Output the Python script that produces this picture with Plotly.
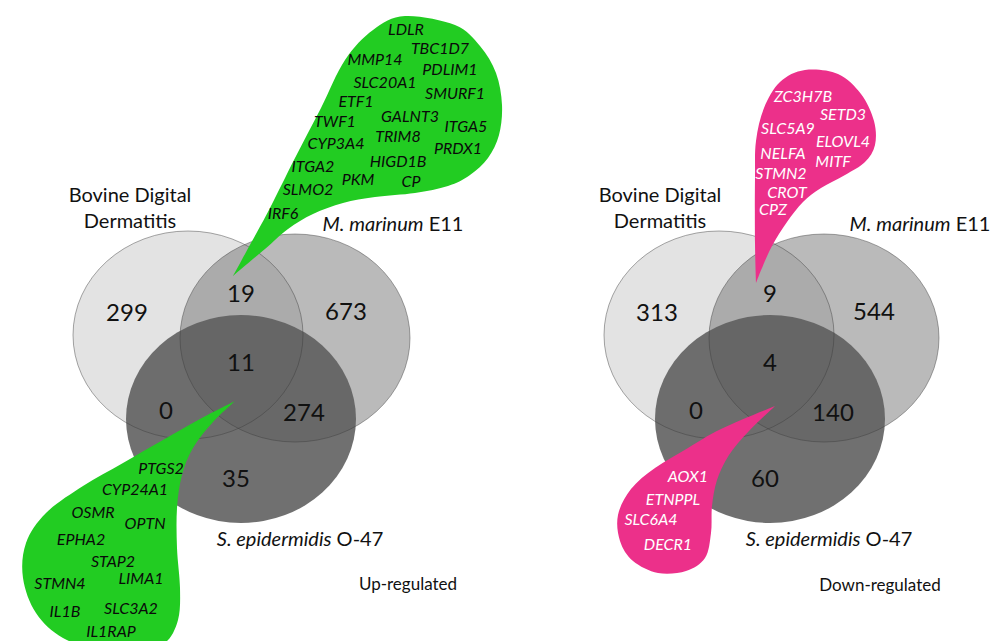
import plotly.graph_objects as go

# ---------------- data ----------------
regions = ["A only", "A&B", "B only", "A&B&C", "A&C", "B&C", "C only"]
up_counts = [299, 19, 673, 11, 0, 274, 35]
down_counts = [313, 9, 544, 4, 0, 140, 60]
set_names = ["Bovine Digital<br>Dermatitis", "<i>M. marinum</i> E11", "<i>S. epidermidis</i> O-47"]
panel_titles = ["Up-regulated", "Down-regulated"]

up_AB_genes = ["LDLR", "TBC1D7", "MMP14", "PDLIM1", "SLC20A1", "SMURF1", "ETF1", "GALNT3",
               "TWF1", "ITGA5", "TRIM8", "CYP3A4", "PRDX1", "HIGD1B", "ITGA2", "PKM", "CP",
               "SLMO2", "IRF6"]
up_ABC_genes = ["PTGS2", "CYP24A1", "OSMR", "OPTN", "EPHA2", "STAP2", "STMN4", "LIMA1",
                "IL1B", "SLC3A2", "IL1RAP"]
down_AB_genes = ["ZC3H7B", "SETD3", "SLC5A9", "ELOVL4", "NELFA", "MITF", "STMN2", "CROT", "CPZ"]
down_ABC_genes = ["AOX1", "ETNPPL", "SLC6A4", "DECR1"]

# ---------------- layout (pixel-space positions) ----------------
FONT = "Lato"
W, H = 999, 641
RX, RY = 115, 104

panels = [
    dict(centers=[(180, 327), (287, 330), (233, 411)],
         count_pos=[(119, 307), (233, 288), (338, 306), (233, 357), (158, 405), (296, 407), (228, 473)],
         name_pos=[(122, 202), (385, 218), (292, 533)],
         title_pos=(400, 578)),
    dict(centers=[(711, 327), (816, 330), (762, 411)],
         count_pos=[(649, 307), (762, 288), (866, 306), (762, 357), (688, 405), (825, 407), (757, 473)],
         name_pos=[(652, 202), (912, 218), (821, 533)],
         title_pos=(872, 579)),
]

up_AB_pos = [(398, 23), (432, 42), (367, 53), (442, 63), (377, 76), (447, 87), (348, 95),
             (402, 110), (327, 115), (458, 120), (390, 130), (328, 137), (450, 142),
             (390, 155), (305, 160), (350, 173), (403, 175), (300, 183), (275, 207)]
up_ABC_pos = [(153, 462), (127, 483), (85, 506), (137, 517), (73, 533), (105, 555),
              (52, 577), (133, 572), (57, 605), (123, 602), (103, 625)]
down_AB_pos = [(795, 90), (835, 108), (780, 122), (835, 135), (775, 147), (825, 155),
               (773, 167), (779, 186), (765, 203)]
down_ABC_pos = [(680, 470), (665, 493), (643, 513), (660, 538)]

# callout outlines (tip first and last)
green_top = [(225, 268), (243, 235), (262, 200), (287, 150), (313, 100), (337, 52), (365, 22),
             (397, 8), (447, 17), (472, 38), (488, 65), (494, 97), (491, 127), (480, 150),
             (462, 167), (440, 178), (407, 185), (367, 189), (335, 195), (305, 206),
             (280, 221), (257, 241), (225, 268)]
green_bot = [(227, 393), (205, 414), (185, 440), (174, 467), (169, 500), (169, 540),
             (172, 580), (170, 612), (157, 635), (130, 645), (95, 643), (55, 630),
             (28, 605), (15, 570), (18, 535), (38, 505), (75, 478), (115, 455),
             (155, 432), (192, 411), (227, 393)]
pink_top = [(748, 275), (747, 235), (747, 170), (748, 133), (756, 100), (772, 74), (797, 62),
            (830, 66), (853, 86), (866, 113), (867, 137), (857, 154), (837, 167),
            (813, 180), (795, 194), (779, 214), (764, 238), (754, 260), (748, 275)]
pink_bot = [(767, 398), (713, 421), (680, 440), (647, 460), (623, 481), (610, 507),
            (612, 533), (625, 553), (650, 565), (678, 563), (697, 550), (703, 525),
            (704, 498), (709, 472), (721, 447), (741, 423), (767, 398)]

GREEN = "rgb(34,204,34)"
PINK = "rgb(236,48,138)"


def smooth_path(pts):
    P = [pts[0]] + list(pts) + [pts[-1]]
    d = f"M {pts[0][0]},{pts[0][1]}"
    for i in range(1, len(P) - 2):
        p0, p1, p2, p3 = P[i - 1], P[i], P[i + 1], P[i + 2]
        c1 = (p1[0] + (p2[0] - p0[0]) / 6, p1[1] + (p2[1] - p0[1]) / 6)
        c2 = (p2[0] - (p3[0] - p1[0]) / 6, p2[1] - (p3[1] - p1[1]) / 6)
        d += f" C {c1[0]:.1f},{c1[1]:.1f} {c2[0]:.1f},{c2[1]:.1f} {p2[0]},{p2[1]}"
    return d + " Z"


fills = [("rgb(200,200,200)", 0.5), ("rgb(110,110,110)", 0.48), ("rgb(92,92,92)", 0.88)]

shapes = []
for p in panels:
    for (cx, cy), (col, op) in zip(p["centers"], fills):
        shapes.append(dict(type="circle", xref="x", yref="y", x0=cx - RX, x1=cx + RX,
                           y0=cy - RY, y1=cy + RY, fillcolor=col, opacity=op,
                           line=dict(width=0), layer="below"))
    for (cx, cy) in p["centers"][:2]:
        shapes.append(dict(type="circle", xref="x", yref="y", x0=cx - RX, x1=cx + RX,
                           y0=cy - RY, y1=cy + RY, fillcolor="rgba(0,0,0,0)",
                           line=dict(width=1, color="rgba(60,60,60,0.45)"), layer="below"))

for pts, col in [(green_top, GREEN), (green_bot, GREEN), (pink_top, PINK), (pink_bot, PINK)]:
    shapes.append(dict(type="path", xref="x", yref="y", path=smooth_path(pts),
                       fillcolor=col, line=dict(width=0), layer="below"))

fig = go.Figure()

# region counts
for p, counts in zip(panels, [up_counts, down_counts]):
    fig.add_trace(go.Scatter(x=[q[0] for q in p["count_pos"]], y=[q[1] for q in p["count_pos"]],
                             text=[str(c) for c in counts], mode="text",
                             textfont=dict(family=FONT, size=24, color="#111111"),
                             hoverinfo="skip", showlegend=False))
    fig.add_trace(go.Scatter(x=[q[0] for q in p["name_pos"]], y=[q[1] for q in p["name_pos"]],
                             text=set_names, mode="text",
                             textfont=dict(family=FONT, size=20, color="#111111"),
                             hoverinfo="skip", showlegend=False))

for p, t in zip(panels, panel_titles):
    fig.add_trace(go.Scatter(x=[p["title_pos"][0]], y=[p["title_pos"][1]], text=[t], mode="text",
                             textfont=dict(family=FONT, size=17, color="#111111"),
                             hoverinfo="skip", showlegend=False))

# gene callouts
for genes, pos, col in [(up_AB_genes, up_AB_pos, "#0a0a0a"), (up_ABC_genes, up_ABC_pos, "#0a0a0a"),
                        (down_AB_genes, down_AB_pos, "white"), (down_ABC_genes, down_ABC_pos, "white")]:
    fig.add_trace(go.Scatter(x=[q[0] for q in pos], y=[q[1] for q in pos], text=genes,
                             mode="text",
                             textfont=dict(family=FONT, size=16, color=col, style="italic"),
                             hoverinfo="skip", showlegend=False))

fig.update_layout(width=W, height=H, margin=dict(l=0, r=0, t=0, b=0),
                  paper_bgcolor="white", plot_bgcolor="white", shapes=shapes,
                  xaxis=dict(range=[0, W], visible=False, fixedrange=True),
                  yaxis=dict(range=[H, 0], visible=False, fixedrange=True),
                  showlegend=False)

fig.write_html("out.html")
